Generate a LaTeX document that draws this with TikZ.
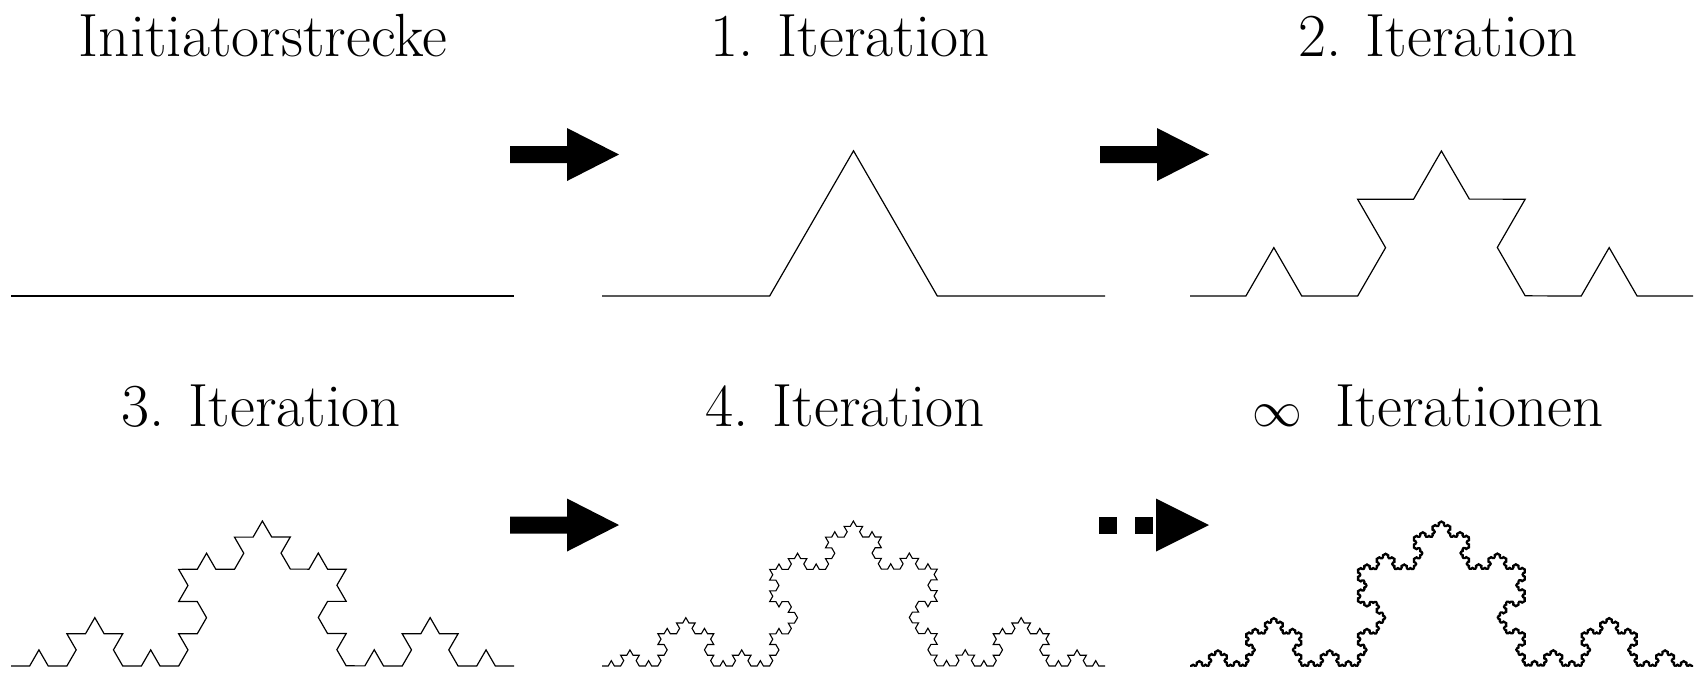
\documentclass[tikz,border=0pt]{standalone}
\usepackage{tikz}
\usetikzlibrary{decorations.fractals, positioning}

\begin{document}
\begin{tikzpicture}[x=0.5pt,y=-0.5pt,line width=0.6pt,decoration=Koch snowflake]
    \tikzstyle{title}=[font=\fontsize{30.5}{36}\selectfont, anchor=base, inner sep=0pt]
    \tikzstyle{block}=[fill=black, draw=none]

    \useasboundingbox (0,0) rectangle (1701,677);

    % end points of the six curves
    \coordinate (L0) at (11,296);   \coordinate (R0) at (514,296);
    \coordinate (L1) at (602,296);  \coordinate (R1) at (1105,296);
    \coordinate (L2) at (1190,296); \coordinate (R2) at (1693,296);
    \coordinate (L3) at (11,666);   \coordinate (R3) at (514,666);
    \coordinate (L4) at (602,666);  \coordinate (R4) at (1105,666);
    \coordinate (L5) at (1190,666); \coordinate (R5) at (1693,666);

    \node[title] (T0) at (263,56) {Initiatorstrecke};
    \node[title] (T1) at (850,56) {1. Iteration};
    \node[title] (T2) at (1438,56) {2. Iteration};
    \node[title] (T3) at (261,426) {3. Iteration};
    \node[title] (T4) at (845,426) {4. Iteration};
    \node[title] (T5) at (1428,426) {$\infty$\hspace{0.55em}Iterationen};

    \draw (L0) -- (R0);
    \draw decorate{ (L1) -- (R1) };
    \draw decorate{ decorate{ (L2) -- (R2) }};
    \draw decorate{ decorate{ decorate{ (L3) -- (R3) }}};
    \draw[line width=0.55pt] decorate{ decorate{ decorate{ decorate{ (L4) -- (R4) }}}};
    \draw[line width=0.8pt, line join=round] decorate{ decorate{ decorate{ decorate{ decorate{ decorate{ (L5) -- (R5) }}}}}};

    % block arrows
    \coordinate (A1) at (510,154.5);
    \coordinate (A2) at (1100,154.5);
    \coordinate (A3) at (510,525);
    \coordinate (A4) at (1099,525);

    \foreach \a in {A1,A2,A3}
        \fill[block] (\a) ++(0,-8.5) -- ++(57,0) -- ++(0,-18) -- ++(52,26.5)
            -- ++(-52,26.5) -- ++(0,-18) -- ++(-57,0) -- cycle;

    \fill[block] (A4) ++(0,-8.5) rectangle ++(18,17);
    \fill[block] (A4) ++(36,-8.5) rectangle ++(18,17);
    \fill[block] (A4) ++(57,-26.5) -- ++(53,26.5) -- ++(-53,26.5) -- cycle;

\end{tikzpicture}
\end{document}
